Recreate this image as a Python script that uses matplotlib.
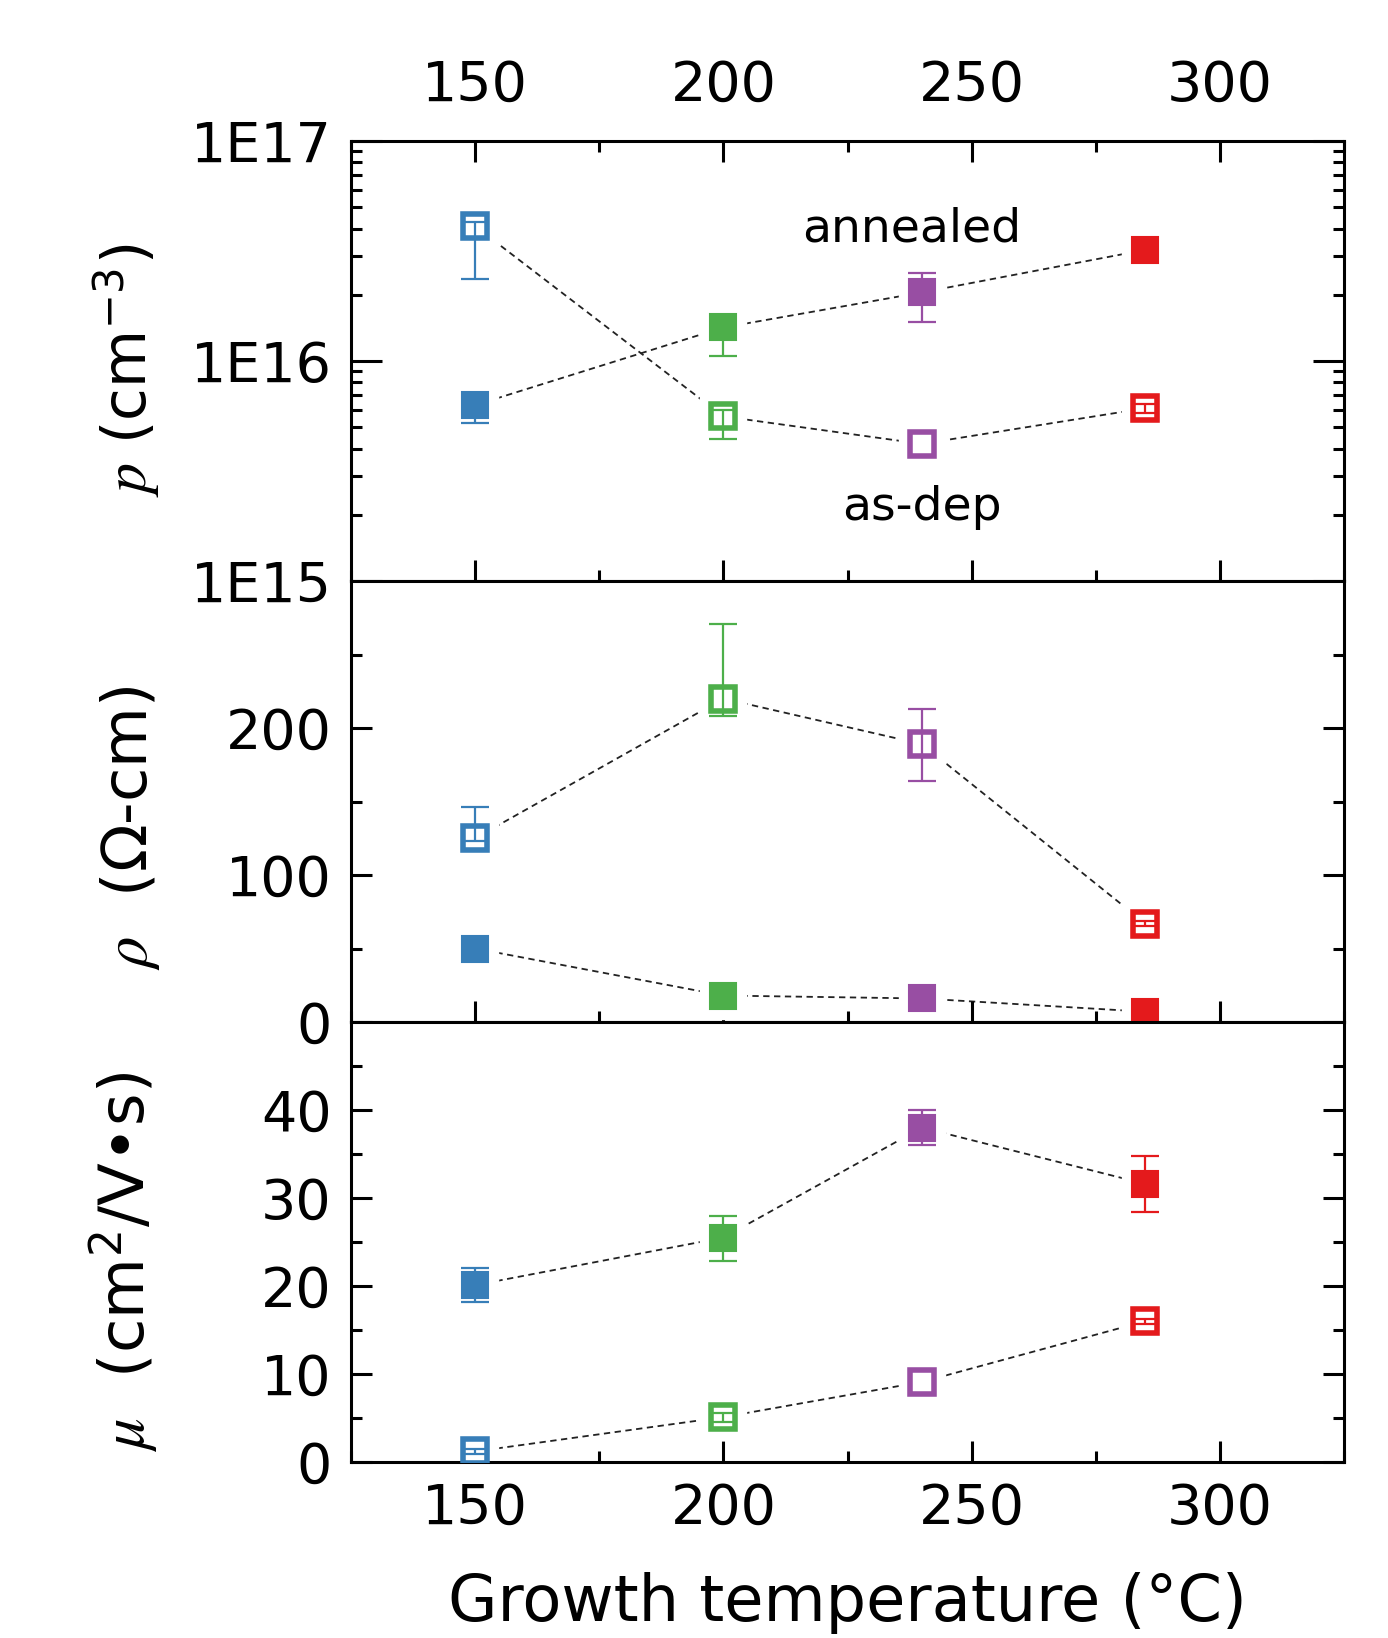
import matplotlib
matplotlib.use("Agg")
import matplotlib.pyplot as plt
from matplotlib.ticker import FixedLocator, MultipleLocator, LogLocator, NullFormatter, FixedFormatter
import numpy as np

plt.rcParams['font.family'] = ['DejaVu Sans']
plt.rcParams['mathtext.fontset'] = 'custom'
plt.rcParams['mathtext.rm'] = 'DejaVu Sans'
plt.rcParams['mathtext.it'] = 'STIXGeneral:italic'
plt.rcParams['mathtext.bf'] = 'DejaVu Sans:bold'

# ---- data ----
temps = [150, 200, 240, 285]
colors = ['#377eb8', '#4daf4a', '#984ea3', '#e41a1c']

# carrier concentration (cm^-3)
p_asdep = [4.1e16, 5.6e15, 4.2e15, 6.1e15]
p_asdep_lo = [1.75e16, 1.2e15, 0.0, 0.3e15]
p_asdep_hi = [0.2e16, 0.4e15, 0.0, 0.3e15]
p_ann = [6.3e15, 1.42e16, 2.05e16, 3.2e16]
p_ann_lo = [1.1e15, 0.37e16, 0.55e16, 0.0]
p_ann_hi = [0.2e15, 0.1e16, 0.45e16, 0.0]

# resistivity (Ohm-cm)
rho_asdep = [125, 220, 189, 67]
rho_asdep_lo = [2, 12, 25, 2]
rho_asdep_hi = [21, 51, 24, 2]
rho_ann = [50, 18, 16, 7]
rho_ann_lo = [0, 0, 0, 0]
rho_ann_hi = [0, 0, 0, 0]

# mobility (cm^2/V s)
mu_ann = [20.1, 25.5, 38.0, 31.6]
mu_ann_lo = [1.9, 2.7, 2.0, 3.2]
mu_ann_hi = [1.9, 2.4, 2.0, 3.2]
mu_asdep = [1.2, 5.1, 9.1, 16.0]
mu_asdep_lo = [0.3, 0.5, 0.0, 0.3]
mu_asdep_hi = [0.3, 0.5, 0.0, 0.3]

xticks = [150, 200, 250, 300]

W, H = 1388, 1638
fig = plt.figure(figsize=(W / 100, H / 100), dpi=100)

left = 351 / W
right = 1344 / W
ys = [141, 581, 1022, 1462]
axes = []
for i in range(3):
    top = 1 - ys[i] / H
    bot = 1 - ys[i + 1] / H
    ax = fig.add_axes([left, bot, right - left, top - bot])
    axes.append(ax)

FS = 40
MS = 19
LABX = -0.19


def draw_series(ax, y, lo, hi, filled):
    ax.plot(temps, y, ls=(0, (3.5, 2.5)), color='#222222', lw=1.3, zorder=1)
    for t, v, l, h, c in zip(temps, y, lo, hi, colors):
        if l > 0 or h > 0:
            ax.errorbar([t], [v], yerr=[[l], [h]], fmt='none', ecolor=c,
                        elinewidth=1.6, capsize=10, capthick=1.6, zorder=3)
        # white halo to break line near marker
        ax.plot([t], [v], marker='s', ms=MS + 14, mfc='white', mec='white',
                ls='none', zorder=2)
        if filled:
            ax.plot([t], [v], marker='s', ms=MS, mfc=c, mec=c, mew=1.5,
                    ls='none', zorder=4)
        else:
            ax.plot([t], [v], marker='s', ms=MS - 2, mfc='none', mec=c, mew=4,
                    ls='none', zorder=4)


for ax in axes:
    ax.set_xlim(125, 325)
    ax.xaxis.set_major_locator(FixedLocator(xticks))
    ax.xaxis.set_minor_locator(MultipleLocator(25))
    for s in ax.spines.values():
        s.set_linewidth(2.2)
    ax.tick_params(which='major', direction='in', length=15, width=2.2,
                   labelsize=FS, pad=14, left=True, right=True)
    ax.tick_params(which='minor', direction='in', length=8, width=2.2,
                   left=True, right=True)

# top panel
ax0 = axes[0]
ax0.set_yscale('log')
ax0.set_ylim(1e15, 1e17)
draw_series(ax0, p_asdep, p_asdep_lo, p_asdep_hi, False)
draw_series(ax0, p_ann, p_ann_lo, p_ann_hi, True)
ax0.yaxis.set_major_locator(FixedLocator([1e15, 1e16, 1e17]))
ax0.yaxis.set_major_formatter(FixedFormatter(['1E15', '1E16', '1E17']))
ax0.yaxis.set_minor_locator(LogLocator(base=10, subs=np.arange(2, 10) * 1.0))
ax0.yaxis.set_minor_formatter(NullFormatter())
ax0.tick_params(axis='x', which='both', top=True, bottom=True,
                labeltop=True, labelbottom=False)
ax0.tick_params(axis='x', which='major', pad=20)
ax0.tick_params(axis='y', which='major', length=22)
ax0.text(238, 4.0e16, 'annealed', fontsize=34, ha='center', va='center')
ax0.text(240, 2.15e15, 'as-dep', fontsize=34, ha='center', va='center')
ax0.set_ylabel(r'$p$ (cm$^{-3}$)', fontsize=43)
ax0.yaxis.set_label_coords(LABX, 0.48)

# middle panel
ax1 = axes[1]
ax1.set_ylim(0, 300)
draw_series(ax1, rho_asdep, rho_asdep_lo, rho_asdep_hi, False)
draw_series(ax1, rho_ann, rho_ann_lo, rho_ann_hi, True)
ax1.yaxis.set_major_locator(FixedLocator([0, 100, 200]))
ax1.yaxis.set_minor_locator(FixedLocator([50, 150, 250]))
ax1.tick_params(axis='x', which='both', top=False, bottom=True,
                labelbottom=False)
ax1.set_ylabel(r'$\rho$  (Ω-cm)', fontsize=45)
ax1.yaxis.set_label_coords(LABX, 0.44)

# bottom panel
ax2 = axes[2]
ax2.set_ylim(0, 50)
draw_series(ax2, mu_ann, mu_ann_lo, mu_ann_hi, True)
draw_series(ax2, mu_asdep, mu_asdep_lo, mu_asdep_hi, False)
ax2.yaxis.set_major_locator(FixedLocator([0, 10, 20, 30, 40]))
ax2.yaxis.set_minor_locator(FixedLocator([5, 15, 25, 35, 45]))
ax2.tick_params(axis='x', which='both', top=False, bottom=True,
                labelbottom=True)
ax2.set_ylabel(r'$\mu$  (cm$^2$/V•s)', fontsize=45)
ax2.yaxis.set_label_coords(LABX, 0.455)
ax2.set_xlabel('Growth temperature (°C)', fontsize=46, labelpad=26)

fig.savefig('out.png', dpi=100)
